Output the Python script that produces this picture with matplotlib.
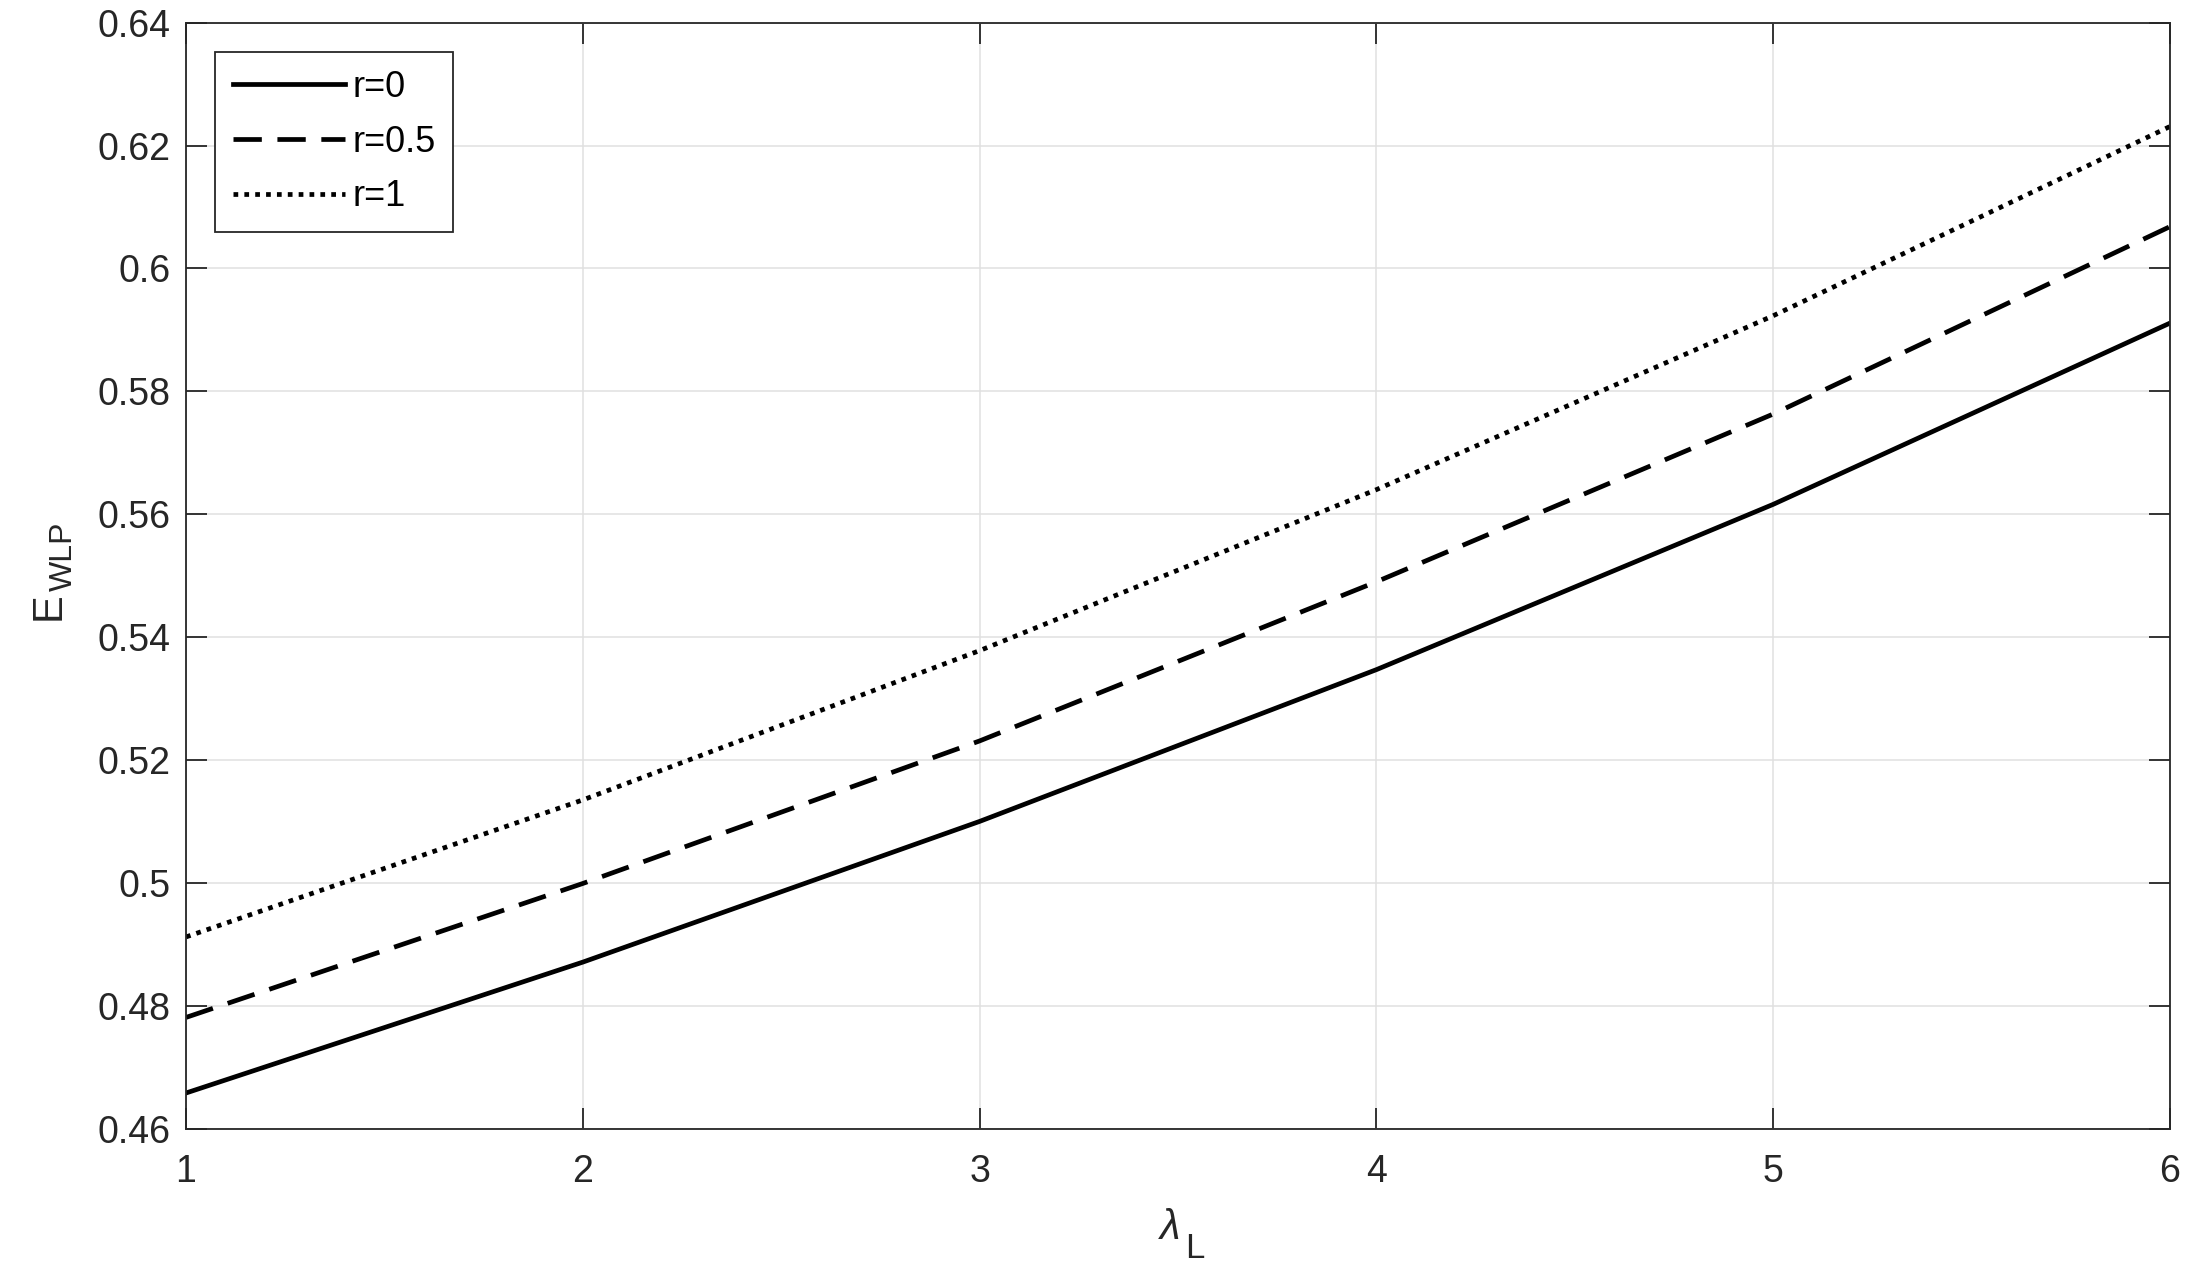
import matplotlib
matplotlib.use('Agg')
import matplotlib.pyplot as plt

plt.rcParams['font.family'] = ['Liberation Sans', 'DejaVu Sans']

lam = [1, 2, 3, 4, 5, 6]
e_r0 = [0.4658, 0.4871, 0.5100, 0.5347, 0.5616, 0.5911]
e_r05 = [0.4781, 0.4999, 0.5231, 0.5490, 0.5763, 0.6068]
e_r1 = [0.4912, 0.5135, 0.5378, 0.5640, 0.5923, 0.6231]
labels = ['r=0', 'r=0.5', 'r=1']

ink = '#262626'

fig = plt.figure(figsize=(21.94, 12.76), dpi=100)
ax = fig.add_axes([0.0848, 0.1155, 0.9042, 0.8667])

ax.plot(lam, e_r0, color='black', lw=3.4, linestyle='-', label=labels[0])
ax.plot(lam, e_r05, color='black', lw=3.4, linestyle=(0, (6, 3.3)), label=labels[1])
ax.plot(lam, e_r1, color='black', lw=3.4, linestyle=(0, (1, 1.3)), label=labels[2])

ax.set_xlim(1, 6)
ax.set_ylim(0.46, 0.64)
ax.set_xticks([1, 2, 3, 4, 5, 6])
ax.set_yticks([0.46, 0.48, 0.5, 0.52, 0.54, 0.56, 0.58, 0.6, 0.62, 0.64])
ax.set_yticklabels(['0.46', '0.48', '0.5', '0.52', '0.54', '0.56', '0.58', '0.6', '0.62', '0.64'])

ax.grid(True, color='#e0e0e0', lw=1.1)
ax.set_axisbelow(True)
for s in ax.spines.values():
    s.set_color(ink)
    s.set_linewidth(1.3)
ax.tick_params(direction='in', length=15, width=1.3, color=ink, labelcolor=ink,
               labelsize=27, top=True, right=True)
ax.tick_params(axis='x', pad=18)
ax.tick_params(axis='y', pad=11)

# axis labels built from pieces so the subscripts get MATLAB-like sizes
ax.text(0.4960, -0.0995, '\u03bb', fontsize=30, style='italic', color=ink,
        ha='center', va='baseline', transform=ax.transAxes)
ax.text(0.5035, -0.1166, 'L', fontsize=25, color=ink,
        ha='left', va='baseline', transform=ax.transAxes)
ax.text(-0.0635, 0.4602, 'E', fontsize=30, color=ink, rotation=90,
        rotation_mode='anchor', ha='left', va='baseline', transform=ax.transAxes)
ax.text(-0.0575, 0.4865, 'WLP', fontsize=23, color=ink, rotation=90,
        rotation_mode='anchor', ha='left', va='baseline', transform=ax.transAxes)

leg = ax.legend(loc='upper left', fontsize=26, handlelength=3.1, handletextpad=0.2,
                labelspacing=0.55, borderpad=0.5, fancybox=False, framealpha=1,
                borderaxespad=0.8)
leg.get_frame().set_edgecolor(ink)
leg.get_frame().set_linewidth(1.3)
for t in leg.get_texts():
    t.set_color('black')

fig.savefig('out.png', dpi=100, facecolor='white')
